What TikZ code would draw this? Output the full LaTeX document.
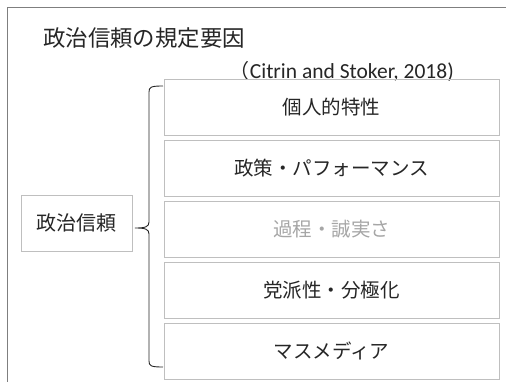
\documentclass[tikz,border=0pt]{standalone}
\usepackage{fontspec}
\setmainfont{Noto Sans CJK JP}
\newfontfamily\latinfont{Carlito}
\definecolor{framegray}{HTML}{7F7F7F}
\definecolor{boxgray}{HTML}{BFBFBF}
\definecolor{txtdark}{HTML}{262626}
\definecolor{txtlight}{HTML}{A6A6A6}
\begin{document}
\begin{tikzpicture}[x=1pt,y=-1pt,
  factor/.style={draw=boxgray, line width=0.8pt, minimum width=335pt, minimum height=56pt, inner sep=0pt, font=\fontsize{19.5}{22}\selectfont, text=txtdark},
  mainbox/.style={draw=boxgray, line width=0.8pt, minimum width=111pt, minimum height=56pt, inner sep=0pt, font=\fontsize{20}{22}\selectfont, text=txtdark},
  bracel/.style={draw=black!85, line width=0.9pt}]
\useasboundingbox (0,0) rectangle (506,382);
\fill[white] (0,0) rectangle (506,382);
\coordinate (fbl) at (7,382);
\coordinate (ftl) at (7,7);
\coordinate (ftr) at (506,7);
\draw[framegray, line width=0.8pt] (fbl) -- (ftl) -- (ftr);
\node[anchor=west, text=txtdark, font=\fontsize{22.4}{25}\selectfont, inner sep=0pt] (title) at (43,38) {政治信頼の規定要因};
\node[anchor=east, text=txtdark, font=\fontsize{20}{22}\selectfont, inner sep=0pt] (cite) at (454,71) {（{\latinfont\fontsize{21.5}{23}\selectfont Citrin and Stoker, 2018)}};
\node[factor] (f1) at (331.5,107) {個人的特性};
\node[factor] (f2) at (331.5,168) {政策・パフォーマンス};
\node[factor, text=txtlight] (f3) at (331.5,229) {過程・誠実さ};
\node[factor] (f4) at (331.5,290) {党派性・分極化};
\node[factor] (f5) at (331.5,351) {マスメディア};
\node[mainbox] (trust) at (76.5,223) {政治信頼};
\coordinate (btop) at (163,86);
\coordinate (bbot) at (163,367);
\coordinate (btip) at (135,228);
\draw[bracel] (btop) .. controls (151,86) and (149,87) .. (149,92)
  -- (149,222) .. controls (149,227) and (145,228) .. (btip)
  .. controls (145,228) and (149,229) .. (149,234)
  -- (149,361) .. controls (149,366) and (151,367) .. (bbot);
\end{tikzpicture}
\end{document}
